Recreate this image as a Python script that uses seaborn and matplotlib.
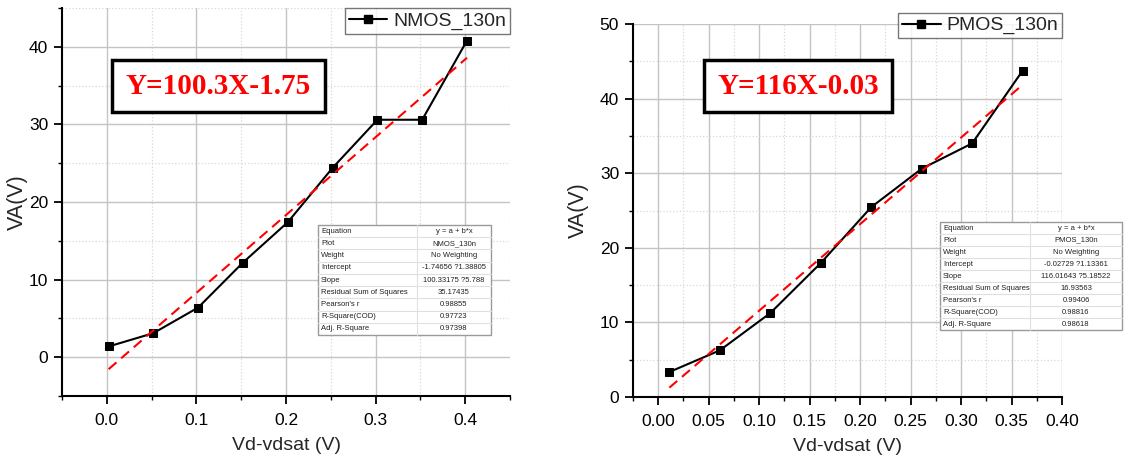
import matplotlib
matplotlib.use("Agg")
import matplotlib.pyplot as plt
from matplotlib.patches import Rectangle
from matplotlib.lines import Line2D
from matplotlib.ticker import MultipleLocator
import seaborn as sns
import pandas as pd
import numpy as np

# ---- data ----
nmos_x = [0.002, 0.052, 0.102, 0.152, 0.202, 0.252, 0.302, 0.352, 0.402]
nmos_y = [1.38, 3.1, 6.4, 12.2, 17.4, 24.4, 30.6, 30.6, 40.8]
nmos_intercept = -1.74656
nmos_slope = 100.33175

pmos_x = [0.011, 0.061, 0.111, 0.161, 0.211, 0.261, 0.311, 0.361]
pmos_y = [3.35, 6.25, 11.25, 17.95, 25.45, 30.6, 34.0, 43.75]
pmos_intercept = -0.02729
pmos_slope = 116.01643

nmos_label = "NMOS_130n"
pmos_label = "PMOS_130n"
nmos_eq = "Y=100.3X-1.75"
pmos_eq = "Y=116X-0.03"

table_keys = ["Equation", "Plot", "Weight", "Intercept", "Slope",
              "Residual Sum of Squares", "Pearson's r", "R-Square(COD)", "Adj. R-Square"]
nmos_table = ["y = a + b*x", "NMOS_130n", "No Weighting", "-1.74656 ?1.38805",
              "100.33175 ?5.788", "35.17435", "0.98855", "0.97723", "0.97398"]
pmos_table = ["y = a + b*x", "PMOS_130n", "No Weighting", "-0.02729 ?1.13361",
              "116.01643 ?5.18522", "16.93563", "0.99406", "0.98816", "0.98618"]

sns.set_theme(style="ticks")
plt.rcParams['font.family'] = ['Liberation Sans', 'DejaVu Sans']

W, H = 1125, 459
fig = plt.figure(figsize=(W / 100, H / 100), dpi=100)


def fx(px):
    return px / W


def fy(py):
    return 1 - py / H


def make_axes(l, t, r, b):
    return fig.add_axes([fx(l), fy(b), fx(r) - fx(l), fy(t) - fy(b)])


def style_axes(ax, xlim, ylim, xmaj, xmin, ymaj, ymin, xfmt, ylab_x):
    ax.set_xlim(*xlim)
    ax.set_ylim(*ylim)
    ax.xaxis.set_major_locator(MultipleLocator(xmaj))
    ax.xaxis.set_minor_locator(MultipleLocator(xmin))
    ax.yaxis.set_major_locator(MultipleLocator(ymaj))
    ax.yaxis.set_minor_locator(MultipleLocator(ymin))
    ax.xaxis.set_major_formatter(matplotlib.ticker.FormatStrFormatter(xfmt))
    ax.grid(True, which='major', color='#c4c4c4', linestyle='-', linewidth=1.0)
    ax.grid(True, which='minor', color='#d8d8d8', linestyle=':', linewidth=0.9)
    ax.set_axisbelow(True)
    for s in ['top', 'right']:
        ax.spines[s].set_visible(False)
    for s in ['left', 'bottom']:
        ax.spines[s].set_color('black')
        ax.spines[s].set_linewidth(1.5)
    ax.tick_params(which='major', direction='out', length=6, width=1.3,
                   labelsize=12.5, colors='black', pad=4)
    ax.tick_params(which='minor', direction='out', length=3, width=1.0, colors='black')
    ax.tick_params(axis='x', which='major', pad=6)
    ax.set_xlabel("Vd-vdsat (V)", fontsize=14, labelpad=7)
    ax.set_ylabel("VA(V)", fontsize=15.5)
    ax.yaxis.set_label_coords(ylab_x, 0.5)


def draw_series(ax, xs, ys, a, b, label):
    df = pd.DataFrame({"x": xs, "y": ys})
    sns.lineplot(data=df, x="x", y="y", ax=ax, color='black', marker='s',
                 markersize=6, markeredgecolor='black', linewidth=1.5, legend=False)
    fx_ = np.array([xs[0], xs[-1]])
    fit = pd.DataFrame({"x": fx_, "y": a + b * fx_})
    sns.lineplot(data=fit, x="x", y="y", ax=ax, color='red', linewidth=1.5,
                 legend=False, dashes=False)
    ax.lines[-1].set_linestyle((0, (5, 3)))
    h = Line2D([], [], color='black', marker='s', markersize=6, linewidth=1.5)
    leg = ax.legend([h], [label], loc='upper right', fontsize=14, frameon=True,
                    fancybox=False, handlelength=2.0, handletextpad=0.3,
                    borderpad=0.2, borderaxespad=0.0)
    leg.get_frame().set_edgecolor('#555555')
    leg.get_frame().set_linewidth(1.0)
    return leg


def eq_box(l, t, r, b, text):
    fig.add_artist(Rectangle((fx(l), fy(b)), fx(r) - fx(l), fy(t) - fy(b),
                             transform=fig.transFigure, facecolor='white',
                             edgecolor='black', linewidth=2.5, zorder=5))
    fig.text(fx((l + r) / 2), fy((t + b) / 2), text, color='red', fontsize=21,
             fontweight='bold', family=['Liberation Serif', 'DejaVu Serif'],
             ha='center', va='center', zorder=6)


def stats_table(l, t, r, b, split, values):
    fig.add_artist(Rectangle((fx(l), fy(b)), fx(r) - fx(l), fy(t) - fy(b),
                             transform=fig.transFigure, facecolor='white',
                             edgecolor='#9a9a9a', linewidth=1.0, zorder=5))
    n = len(table_keys)
    rh = (b - t) / n
    fig.add_artist(Line2D([fx(split), fx(split)], [fy(t), fy(b)],
                          transform=fig.transFigure, color='#e0e0e0', lw=0.8, zorder=6))
    for i, (k, v) in enumerate(zip(table_keys, values)):
        if i > 0:
            yy = t + i * rh
            fig.add_artist(Line2D([fx(l), fx(r)], [fy(yy), fy(yy)],
                                  transform=fig.transFigure, color='#e0e0e0',
                                  lw=0.8, zorder=6))
        yc = t + (i + 0.5) * rh
        fig.text(fx(l + 3), fy(yc), k, fontsize=5.5, ha='left', va='center',
                 color='#222222', zorder=7)
        fig.text(fx((split + r) / 2), fy(yc), v, fontsize=5.5, ha='center',
                 va='center', color='#222222', zorder=7)


# Left: NMOS
ax1 = make_axes(62, 8, 510, 396)
style_axes(ax1, (-0.05, 0.45), (-5, 45), 0.1, 0.05, 10, 5, '%.1f', -0.076)
draw_series(ax1, nmos_x, nmos_y, nmos_intercept, nmos_slope, nmos_label)
ax1.set_yticks([0, 10, 20, 30, 40])

# Right: PMOS
ax2 = make_axes(633, 24, 1062, 397)
style_axes(ax2, (-0.025, 0.40), (0, 50), 0.05, 0.025, 10, 5, '%.2f', -0.103)
leg2 = draw_series(ax2, pmos_x, pmos_y, pmos_intercept, pmos_slope, pmos_label)
leg2.set_bbox_to_anchor((1.0, 1.03), transform=ax2.transAxes)

eq_box(112, 60, 325, 112, nmos_eq)
eq_box(704, 60, 892, 112, pmos_eq)

stats_table(318, 225, 491, 335, 417, nmos_table)
stats_table(940, 222, 1122, 330, 1030, pmos_table)

fig.savefig("out.png", dpi=100)
